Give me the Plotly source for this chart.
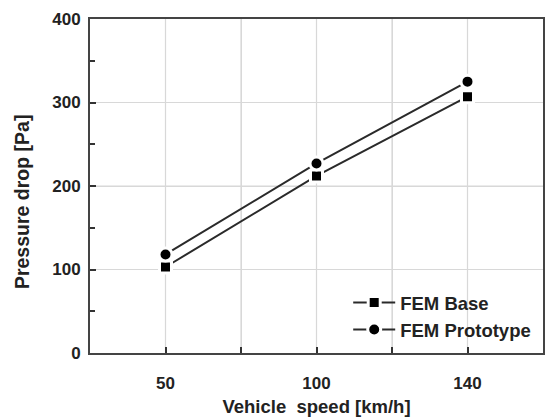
import plotly.graph_objects as go

speeds = ["50", "100", "140"]
fem_base = [103, 212, 307]
fem_proto = [118, 227, 325]
series_names = ["FEM Base", "FEM Prototype"]

x_pos = [i + 1 for i in range(len(speeds))]
tick_vals = [1, 1.5, 2, 2.5, 3]
tick_text = ["50", "", "100", "", "140"]
y_grid = [100, 200, 300]

FONT = "Liberation Sans, Arial, sans-serif"
GRID = "#d8d8d8"

fig = go.Figure()
for name, vals, sym, sz in [(series_names[0], fem_base, "square", 12), (series_names[1], fem_proto, "circle", 13)]:
    fig.add_trace(go.Scatter(
        x=x_pos, y=vals, name=name, mode="lines+markers",
        line=dict(color="#2a2a2a", width=2),
        marker=dict(symbol=sym, size=sz, color="#000000",
                    line=dict(color="white", width=3)),
    ))

# grid lines (drawn as shapes so that they always render)
shapes = []
for tv in tick_vals:
    shapes.append(dict(type="line", xref="x", yref="paper", x0=tv, x1=tv, y0=0, y1=1,
                       line=dict(color=GRID, width=1.2), layer="below"))
for gv in y_grid:
    shapes.append(dict(type="line", xref="paper", yref="y", x0=0, x1=1, y0=gv, y1=gv,
                       line=dict(color=GRID, width=1.2), layer="below"))

fig.update_layout(
    width=545, height=417,
    margin=dict(l=90, r=2, t=19, b=64),
    paper_bgcolor="white", plot_bgcolor="white",
    font=dict(family=FONT, color="#222222"),
    showlegend=True,
    shapes=shapes,
    legend=dict(x=0.985, y=0.012, xanchor="right", yanchor="bottom",
                bgcolor="rgba(0,0,0,0)", font=dict(size=18.5, family=FONT, weight="bold"),
                tracegroupgap=0, itemwidth=42),
    xaxis=dict(range=[0.5, 3.5], tickvals=tick_vals, ticktext=tick_text,
               ticks="inside", ticklen=6, tickwidth=1.5, tickcolor="#333",
               showgrid=True, gridcolor=GRID, gridwidth=1,
               showline=True, linecolor="#444", linewidth=2, mirror=True,
               zeroline=False, tickfont=dict(size=17, weight="bold"),
               ticklabelstandoff=14, automargin=False,
               title=dict(text="Vehicle  speed [km/h]", font=dict(size=18.5, weight="bold"), standoff=15)),
    yaxis=dict(range=[0, 400], dtick=100, ticks="inside", ticklen=6, tickwidth=1.5, tickcolor="#333",
               showgrid=True, gridcolor=GRID, gridwidth=1,
               showline=True, linecolor="#444", linewidth=2, mirror=True,
               zeroline=False, tickfont=dict(size=17, weight="bold"),
               ticklabelstandoff=4, automargin=False,
               minor=dict(dtick=50, ticks="inside", ticklen=5, tickcolor="#333", showgrid=False)),
    annotations=[dict(text="Pressure drop [Pa]", xref="paper", yref="paper",
                      x=-0.150, y=0.452, xanchor="center", yanchor="middle",
                      textangle=-90, showarrow=False,
                      font=dict(size=19.5, weight="bold", family=FONT, color="#222222"))],
)

fig.write_html("out.html")
